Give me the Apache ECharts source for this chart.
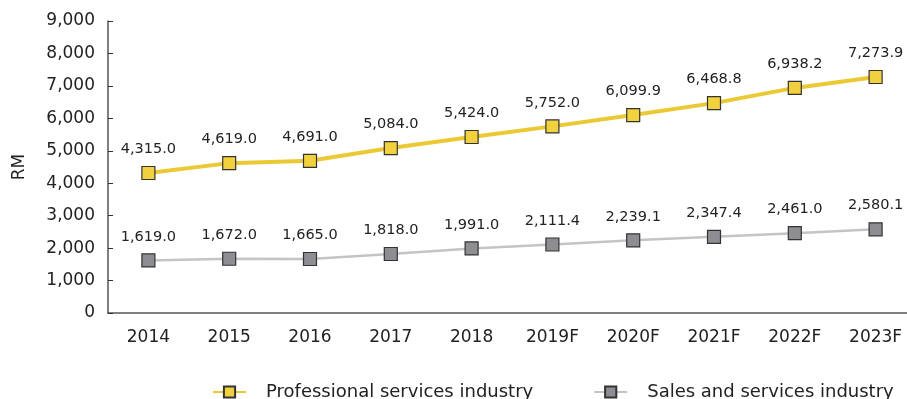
<!DOCTYPE html>
<html><head><meta charset="utf-8">
<script src="https://cdn.jsdelivr.net/npm/echarts@6/dist/echarts.min.js"></script>
<style>html,body{margin:0;padding:0;background:#fff;overflow:hidden}#c{width:916px;height:399px}</style>
</head><body><div id="c"></div>
<script>
const categories = ['2014','2015','2016','2017','2018','2019F','2020F','2021F','2022F','2023F'];
const professional = [4315.0, 4619.0, 4691.0, 5084.0, 5424.0, 5752.0, 6099.9, 6468.8, 6938.2, 7273.9];
const sales = [1619.0, 1672.0, 1665.0, 1818.0, 1991.0, 2111.4, 2239.1, 2347.4, 2461.0, 2580.1];
const seriesNames = ['Professional services industry', 'Sales and services industry'];

function fmt(v, d) {
  const s = v.toFixed(d);
  const parts = s.split('.');
  parts[0] = parts[0].replace(/\B(?=(\d{3})+(?!\d))/g, ',');
  return parts.join('.');
}
const FONT = '"DejaVu Sans", sans-serif';
const chart = echarts.init(document.getElementById('c'));
chart.setOption({
  animation: false,
  textStyle: { fontFamily: FONT },
  grid: { left: 108, top: 21, right: 0, bottom: 86, containLabel: false },
  legend: {
    left: 207, top: 378, itemGap: 60, itemWidth: 33, itemHeight: 14,
    textStyle: { fontSize: 18, color: '#222', fontFamily: FONT, padding: [0, 0, 0, 15] },
    data: seriesNames
  },
  xAxis: {
    type: 'category', data: categories, boundaryGap: true,
    axisLine: { lineStyle: { color: '#555', width: 1.5 } },
    axisTick: { inside: true, length: 5, lineStyle: { color: '#333' } },
    axisLabel: { color: '#222', fontSize: 17, margin: 16, fontFamily: FONT }
  },
  yAxis: {
    type: 'value', min: 0, max: 9000, interval: 1000,
    name: 'RM', nameLocation: 'middle', nameGap: 80, nameRotate: 90,
    nameTextStyle: { fontSize: 17, color: '#222', fontFamily: FONT },
    axisLine: { show: true, lineStyle: { color: '#555', width: 1.5 } },
    axisTick: { show: true, inside: true, length: 5, lineStyle: { color: '#333' } },
    splitLine: { show: false },
    axisLabel: { color: '#222', fontSize: 17, margin: 13, fontFamily: FONT, formatter: v => fmt(v, 0) }
  },
  series: [
    {
      name: seriesNames[0], type: 'line', data: professional,
      symbol: 'rect', symbolSize: 13,
      lineStyle: { color: '#EBC935', width: 4 },
      itemStyle: { color: '#F2D13F', borderColor: '#333', borderWidth: 1.2 },
      label: { show: true, position: 'top', distance: 9, fontSize: 14.5, color: '#222', fontFamily: FONT, formatter: p => fmt(p.value, 1) },
      z: 3
    },
    {
      name: seriesNames[1], type: 'line', data: sales,
      symbol: 'rect', symbolSize: 13,
      lineStyle: { color: '#C4C4C8', width: 2.5 },
      itemStyle: { color: '#8E8E92', borderColor: '#333', borderWidth: 1.2 },
      label: { show: true, position: 'top', distance: 9, fontSize: 14.5, color: '#222', fontFamily: FONT, formatter: p => fmt(p.value, 1) },
      z: 2
    }
  ]
});
</script></body></html>
